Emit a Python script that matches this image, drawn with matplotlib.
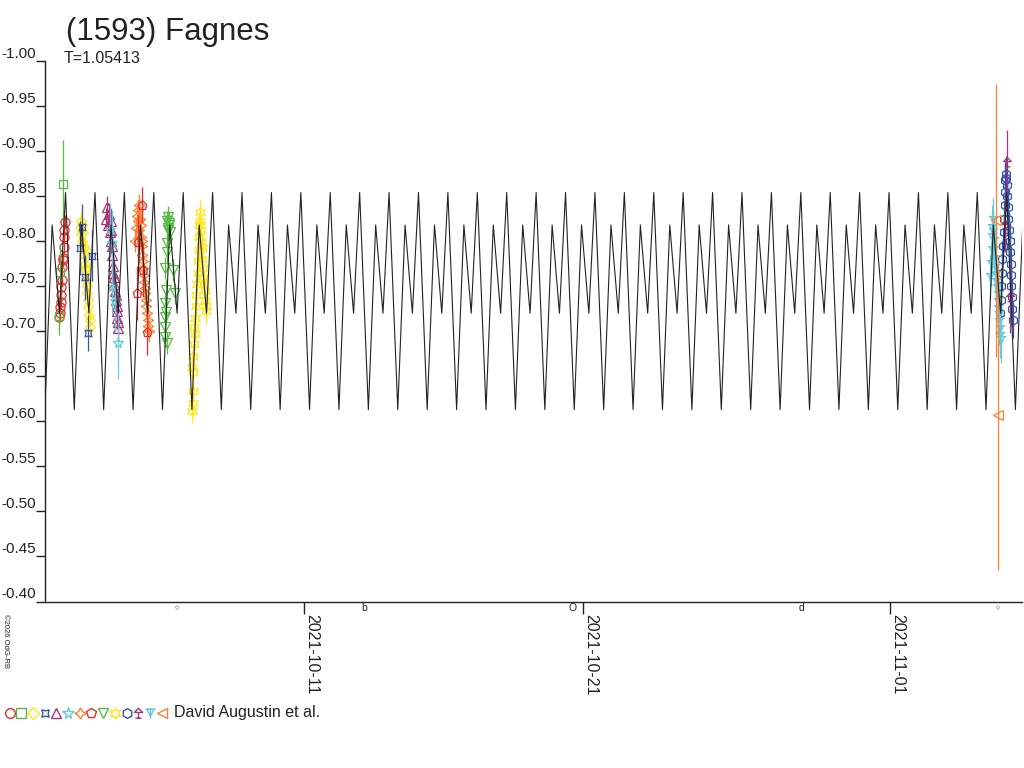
import matplotlib
matplotlib.use("Agg")
import matplotlib.pyplot as plt
from matplotlib import font_manager
from matplotlib.path import Path
import numpy as np
import pandas as pd

plt.rcParams["font.family"] = ["Liberation Sans", "DejaVu Sans"]

# the axis numbers in the original use a tall, narrow face
installed = {f.name for f in font_manager.fontManager.ttflist}
narrow = "Liberation Sans Narrow" in installed
tick_family = ["Liberation Sans Narrow", "DejaVu Sans"] if narrow else ["Liberation Sans", "DejaVu Sans"]
ytick_size = 13 if narrow else 11
date_size = 14 if narrow else 11.5

REF = pd.Timestamp("2021-10-11")   # all times below are days from this date

# fitted model: one rotation, turning points (phase, mag)
period_days = 1.05413
epoch_days = -0.113
cycle_phase = [0.0, 0.296, 0.544, 0.793, 1.0]
cycle_mag = [-0.854, -0.613, -0.818, -0.720, -0.854]

# --- observations, one block per session ---
# 1 red circles
s1_t = [-8.764, -8.746, -8.735, -8.717, -8.703, -8.692, -8.674, -8.664, -8.646, -8.631, -8.617, -8.603, -8.592, -8.581]
s1_mag = [-0.716, -0.720, -0.727, -0.733, -0.740, -0.749, -0.757, -0.771, -0.779, -0.781, -0.794, -0.805, -0.812, -0.821]
s1_err = 0.008
# 2 green squares
s2_t = [-8.764, -8.728, -8.620]
s2_mag = [-0.717, -0.766, -0.864]
s2_err = [0.021, 0.030, 0.048]
# 3 yellow diamonds
s3_t = [-8.011, -7.993, -7.975, -7.957, -7.939, -7.921, -7.903, -7.885, -7.867, -7.849,
        -7.831, -7.813, -7.796, -7.778, -7.760, -7.742, -7.724, -7.706, -7.688, -7.670]
s3_mag = [-0.815, -0.822, -0.808, -0.818, -0.800, -0.810, -0.793, -0.785, -0.790, -0.775,
          -0.768, -0.770, -0.757, -0.750, -0.742, -0.735, -0.727, -0.718, -0.712, -0.705]
s3_err = 0.012
# 4 blue crossed squares
s4_t = [-7.968, -8.029, -7.609, -7.849, -7.731]
s4_mag = [-0.816, -0.792, -0.784, -0.760, -0.698]
s4_err = [0.025, 0.030, 0.028, 0.025, 0.020]
# 5 magenta triangles
s5_t = [-7.097, -7.061, -7.025, -6.989, -6.953, -6.935, -6.918, -6.900, -6.882, -6.864, -6.846,
        -6.828, -6.810, -6.792, -6.774, -6.756, -6.738, -6.720, -6.703, -6.685, -6.667, -6.649]
s5_mag = [-0.825, -0.838, -0.818, -0.830, -0.810, -0.822, -0.800, -0.812, -0.795, -0.785, -0.772,
          -0.765, -0.760, -0.752, -0.745, -0.740, -0.735, -0.728, -0.722, -0.715, -0.710, -0.704]
s5_err = 0.012
# 6 cyan stars
s6_t = [-6.939, -6.882, -6.864, -6.774, -6.656]
s6_mag = [-0.812, -0.798, -0.749, -0.734, -0.687]
s6_err = [0.030, 0.035, 0.030, 0.035, 0.040]
# 7 orange four-point stars
s7_t = [-6.057, -6.022, -5.986, -5.950, -5.932, -5.914, -5.896, -5.878, -5.860, -5.842, -5.824, -5.806, -5.789,
        -5.771, -5.753, -5.735, -5.717, -5.699, -5.681, -5.663, -5.645, -5.627, -5.609, -5.591, -5.573]
s7_mag = [-0.800, -0.815, -0.828, -0.835, -0.822, -0.840, -0.812, -0.825, -0.805, -0.818, -0.795, -0.800, -0.785,
          -0.778, -0.770, -0.762, -0.755, -0.748, -0.742, -0.735, -0.728, -0.720, -0.713, -0.706, -0.700]
s7_err = 0.012
# 8 red pentagons
s8_t = [-5.817, -5.939, -5.760, -5.996, -5.638]
s8_mag = [-0.840, -0.799, -0.768, -0.742, -0.699]
s8_err = [0.020, 0.030, 0.030, 0.030, 0.025]
# 9 green down triangles
s9_t = [-4.875, -4.910, -4.839, -4.857, -4.892, -4.821, -4.803, -4.921, -4.928, -4.982,
        -4.695, -4.624, -4.946, -4.964, -4.939, -4.971, -4.982, -4.989, -4.928]
s9_mag = [-0.827, -0.822, -0.820, -0.815, -0.812, -0.818, -0.810, -0.798, -0.788, -0.770,
          -0.768, -0.742, -0.746, -0.731, -0.721, -0.716, -0.705, -0.694, -0.687]
s9_err = 0.012
# 10 yellow six-point stars
s10_t = [-4.025, -3.996, -3.967, -3.978, -4.014, -3.961, -3.943, -3.907, -3.925, -3.889, -3.871,
         -3.853, -3.835, -3.817, -3.799, -3.781, -3.763, -3.746, -3.728, -3.710, -3.692, -3.674,
         -3.656, -3.638, -3.620, -3.602, -3.584, -3.566, -3.548, -3.530, -3.513]
s10_mag = [-0.612, -0.620, -0.634, -0.655, -0.660, -0.672, -0.686, -0.697, -0.705, -0.715, -0.728,
           -0.740, -0.752, -0.765, -0.778, -0.790, -0.805, -0.818, -0.832, -0.822, -0.812, -0.800,
           -0.792, -0.780, -0.770, -0.760, -0.752, -0.745, -0.735, -0.728, -0.722]
s10_err = 0.014
# 11 blue hexagons
s11_t = [24.964, 24.982, 25.000, 25.018, 25.036, 25.054, 25.072, 25.090, 25.108, 25.125, 25.143, 25.161, 25.179,
         25.197, 25.215, 25.233, 25.251, 25.269, 25.287, 25.305, 25.323, 25.341, 25.358, 25.376, 25.394, 25.412]
s11_mag = [-0.720, -0.735, -0.750, -0.765, -0.780, -0.795, -0.810, -0.825, -0.840, -0.855, -0.868, -0.875, -0.870,
           -0.862, -0.850, -0.838, -0.825, -0.812, -0.800, -0.788, -0.775, -0.762, -0.750, -0.738, -0.725, -0.712]
s11_err = 0.020
# 12 magenta stem triangles
s12_t = [25.183, 25.125, 25.305]
s12_mag = [-0.888, -0.818, -0.738]
s12_err = [0.035, 0.030, 0.040]
# 13 cyan barred triangles
s13_t = [24.588, 24.624, 24.642, 24.659, 24.677, 24.695, 24.713, 24.731, 24.749, 24.767, 24.785,
         24.803, 24.821, 24.839, 24.857, 24.875, 24.892, 24.910, 24.928, 24.946, 24.964, 24.982]
s13_mag = [-0.760, -0.775, -0.790, -0.805, -0.815, -0.823, -0.810, -0.800, -0.790, -0.780, -0.770,
           -0.762, -0.755, -0.748, -0.740, -0.733, -0.725, -0.718, -0.710, -0.702, -0.695, -0.690]
s13_err = 0.025
# 14 orange left triangles
s14_t = [24.803, 24.892]
s14_mag = [-0.823, -0.607]
s14_err = [0.152, 0.172]

series_t = [s1_t, s2_t, s3_t, s4_t, s5_t, s6_t, s7_t, s8_t, s9_t, s10_t, s11_t, s12_t, s13_t, s14_t]
series_mag = [s1_mag, s2_mag, s3_mag, s4_mag, s5_mag, s6_mag, s7_mag, s8_mag, s9_mag, s10_mag, s11_mag, s12_mag, s13_mag, s14_mag]
series_err = [s1_err, s2_err, s3_err, s4_err, s5_err, s6_err, s7_err, s8_err, s9_err, s10_err, s11_err, s12_err, s13_err, s14_err]

tick_dates = ["2021-10-11", "2021-10-21", "2021-11-01"]
y_ticks = [-1.00, -0.95, -0.90, -0.85, -0.80, -0.75, -0.70, -0.65, -0.60, -0.55, -0.50, -0.45, -0.40]
moon_dates = ["2021-10-06 11:05", "2021-10-13 03:25", "2021-10-20 14:57", "2021-10-28 20:05", "2021-11-04 21:14"]
moon_glyphs = ["\u25c7", "b", "O", "d", "\u25c7"]

# --- marker shapes ---
stem_tri = Path([(0, 1), (-0.8, 0.2), (0.8, 0.2), (0, 1), (0, 0.2), (0, -0.9), (-0.6, -0.9), (0.6, -0.9)],
                [Path.MOVETO, Path.LINETO, Path.LINETO, Path.CLOSEPOLY,
                 Path.MOVETO, Path.LINETO, Path.MOVETO, Path.LINETO])
bar_tri = Path([(-1, 0.8), (1, 0.8), (-0.7, 0.8), (0.7, 0.8), (0, -0.5), (-0.7, 0.8), (0, 0.8), (0, -1)],
               [Path.MOVETO, Path.LINETO, Path.MOVETO, Path.LINETO, Path.LINETO, Path.CLOSEPOLY,
                Path.MOVETO, Path.LINETO])

red, green, yellow, blue = "#ee2a2a", "#55bb44", "#ffe81a", "#3355aa"
magenta, cyan, orange = "#aa3377", "#66ccdd", "#ff8030"
colors = [red, green, yellow, blue, magenta, cyan, orange, red, green, yellow, blue, magenta, cyan, orange]
markers = ["o", "s", "D", (4, 1, 45), "^", "*", (4, 1, 0), "p", "v", (6, 1, 0), "h", stem_tri, bar_tri, "<"]
sizes = [6.5, 6, 5.5, 7, 6.5, 8, 7.5, 6.5, 6.5, 8, 6.5, 7, 7, 6.5]

fig = plt.figure(figsize=(10.24, 7.68), dpi=100)
ax = fig.add_axes([45 / 1024, 1 - 601.5 / 768, 977 / 1024, 540.5 / 768])

for t, m, e, c, mk, ms in zip(series_t, series_mag, series_err, colors, markers, sizes):
    dates = REF + pd.to_timedelta(np.array(t), unit="D")
    ax.errorbar(dates, m, yerr=e, fmt="none", ecolor=c, elinewidth=0.9, zorder=2)
    ax.plot(dates, m, ls="none", marker=mk, ms=ms, mfc="none", mec=c, mew=0.9, zorder=2)

# model curve, repeated every rotation
cycles = np.arange(-10, 26)
model_t = np.concatenate([epoch_days + (k + np.array(cycle_phase)) * period_days for k in cycles])
model_mag = np.tile(cycle_mag, len(cycles))
ax.plot(REF + pd.to_timedelta(model_t, unit="D"), model_mag, color="#222222", lw=0.8, zorder=3)

ax.set_xlim(REF + pd.Timedelta(days=-9.283), REF + pd.Timedelta(days=25.735))
ax.set_ylim(-0.40, -1.00)
ax.set_yticks(y_ticks)
ax.set_yticklabels([f"{v:.2f}" for v in y_ticks])
ax.set_xticks([pd.Timestamp(d) for d in tick_dates])
ax.set_xticklabels(tick_dates)

for side in ["top", "right"]:
    ax.spines[side].set_visible(False)
for side in ["left", "bottom"]:
    ax.spines[side].set_color("#222222")
    ax.spines[side].set_linewidth(1.0)

ax.tick_params(axis="y", direction="out", length=6.5, width=1.0, color="#222222", pad=0,
               labelsize=ytick_size, labelcolor="#222222")
ax.tick_params(axis="x", direction="out", length=8.6, width=1.0, color="#222222", pad=0.5,
               labelsize=date_size, labelcolor="#222222")
for lab in ax.get_yticklabels():
    lab.set_verticalalignment("bottom")
    lab.set_family(tick_family)
for lab in ax.get_xticklabels():
    lab.set_rotation(270)
    lab.set_horizontalalignment("left")
    lab.set_verticalalignment("top")
    lab.set_family(tick_family)

# moon phases just under the time axis
for d, g in zip(moon_dates, moon_glyphs):
    ax.text(pd.Timestamp(d), -0.012, g, transform=ax.get_xaxis_transform(), ha="center", va="center",
            fontsize=4 if g == "\u25c7" else 7.5, color="#222222", clip_on=False)

fig.text(66 / 1024, 1 - 40 / 768, "(1593) Fagnes", fontsize=22.5, color="#222222", va="baseline")
fig.text(64 / 1024, 1 - 63 / 768, "T=1.05413", fontsize=11.5, color="#222222", va="baseline")
fig.text(5 / 1024, 1 - 614 / 768, "\u00a92026 OdG-RB", fontsize=5.5, rotation=270,
         ha="center", va="top", color="#222222")

# symbol row at the bottom
lg = fig.add_axes([0, 0, 1, 1], facecolor="none")
lg.set_xlim(0, 1024)
lg.set_ylim(768, 0)
lg.axis("off")
for i, (c, mk, ms) in enumerate(zip(colors, markers, sizes)):
    lg.plot([9.5 + 11.7 * i], [713], ls="none", marker=mk, ms=ms + 0.5, mfc="none", mec=c, mew=1.0)
lg.text(174, 713, "David Augustin et al.", fontsize=11.5, color="#222222", va="center")

fig.savefig("out.png", dpi=100)
